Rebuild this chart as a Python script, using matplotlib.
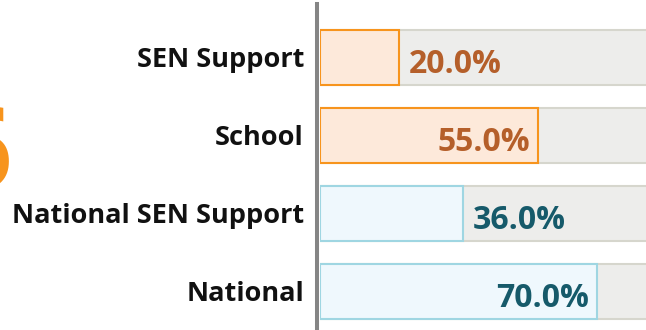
import matplotlib
matplotlib.use("Agg")
import matplotlib.pyplot as plt
from matplotlib.lines import Line2D

plt.rcParams['font.family'] = ['Open Sans', 'DejaVu Sans']

categories = ["SEN Support", "School", "National SEN Support", "National"]
values = [20.0, 55.0, 36.0, 70.0]
fills = ["#fde9da", "#fde9da", "#eff8fd", "#eff8fd"]
edges = ["#f7941d", "#f7941d", "#9fd6e2", "#9fd6e2"]
text_colors = ["#b55f2a", "#b55f2a", "#165a6a", "#165a6a"]

W, H, DPI = 646, 330, 100
fig = plt.figure(figsize=(W / DPI, H / DPI), dpi=DPI)

# bar area starts at x=320px, 100% sits past the right edge
x0, px_per_pct = 320, 3.96
row_px = 78
ax = fig.add_axes([x0 / W, 0, 100 * px_per_pct / W, 1])
ax.set_xlim(0, 100)
ax.set_ylim(3.494, -0.737)
ax.axis("off")

pos = list(range(len(categories)))
bh = 0.705
ax.barh(pos, [100] * len(pos), height=bh, color="#ededeb", linewidth=0, zorder=1)
for i in pos:
    for yy in (i - bh / 2, i + bh / 2):
        ax.plot([0, 100], [yy, yy], color="#d6d6cd", lw=1.5,
                solid_capstyle="butt", zorder=1.5)
ax.barh(pos, values, height=bh, color=fills, edgecolor=edges, linewidth=1.5, zorder=2)

for i, v in enumerate(values):
    label = f"{v:.1f}%"
    base = i + 15.5 / row_px
    if v >= 50:
        ax.text(v - 8 / px_per_pct, base, label, ha="right", va="baseline",
                fontsize=23, fontweight="bold", color=text_colors[i], zorder=3)
    else:
        ax.text(v + 10 / px_per_pct, base, label, ha="left", va="baseline",
                fontsize=23, fontweight="bold", color=text_colors[i], zorder=3)
    fig.text(304 / W, 1 - (57.5 + row_px * i + 9.5) / H, categories[i],
             ha="right", va="baseline", fontsize=19.5, fontweight="bold",
             color="#111111")

# vertical axis line
fig.add_artist(Line2D([317 / W, 317 / W], [0, 1 - 4 / H], color="#858585", lw=2.9))

# large headline figure, mostly off the left edge
fig.text(12 / W, 1 - 188 / H, "6", ha="right", va="baseline", fontsize=80,
         fontweight="bold", color="#f7941d")

fig.savefig("out.png", dpi=DPI)
